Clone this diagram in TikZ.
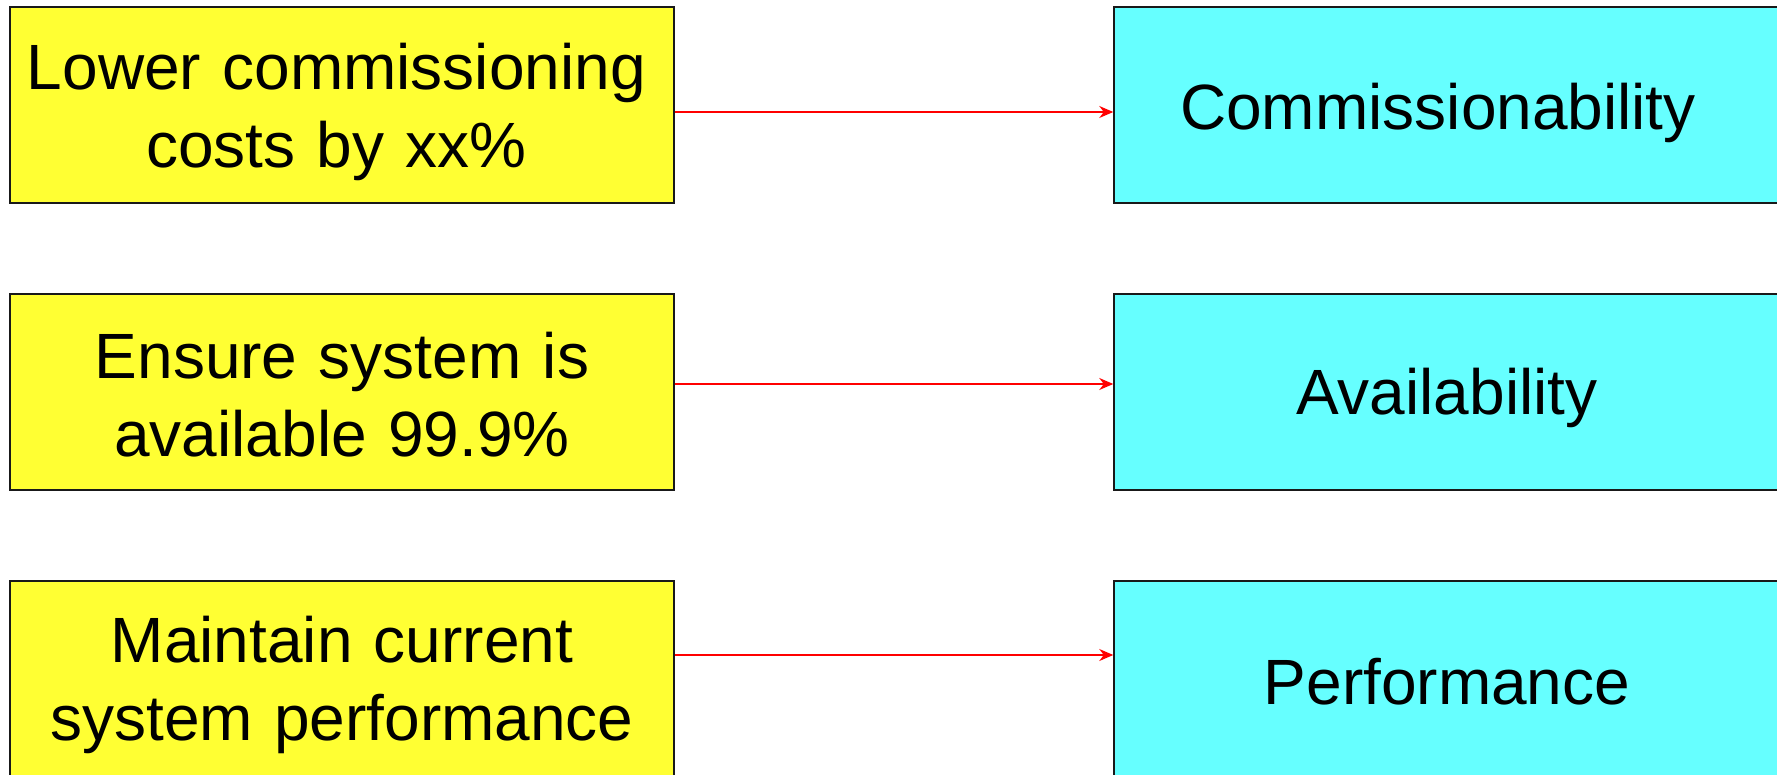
\documentclass[tikz,border=0pt]{standalone}
\usepackage{fontspec}
\setmainfont{Liberation Sans}
\usetikzlibrary{arrows.meta}
\definecolor{goalyellow}{RGB}{255,255,51}
\definecolor{attrcyan}{RGB}{102,255,255}
\begin{document}
\begin{tikzpicture}[x=0.5pt,y=-0.5pt,
  box/.style={draw=black!90,line width=0.75pt,minimum height=98pt,inner sep=0pt},
  goal/.style={box,fill=goalyellow,minimum width=332pt},
  attr/.style={box,fill=attrcyan,minimum width=333pt},
  txt/.style={align=center,inner sep=0pt,text width=320pt,
    font=\fontsize{32}{39}\selectfont},
  link/.style={draw=red,line width=0.75pt,-{Stealth[length=7pt,width=6pt]}}]
\useasboundingbox (0,0) rectangle (1777,775);
% goals on the left
\node[goal] (g1) at (342,105) {};
\node[goal] (g2) at (342,392) {};
\node[goal] (g3) at (342,679) {};
\node[txt,xshift=-2.8pt,yshift=-3.4pt] (g1t) at (g1.center) {Lower commissioning\\costs by xx\%};
\node[txt,yshift=-1.2pt] (g2t) at (g2.center) {Ensure system is\\available 99.9\%};
\node[txt,yshift=-2.8pt] (g3t) at (g3.center) {Maintain current\\system performance};
% quality attributes on the right
\node[attr] (a1) at (1447,105) {};
\node[attr] (a2) at (1447,392) {};
\node[attr] (a3) at (1447,679) {};
\node[txt,xshift=-4.5pt,yshift=-4pt] (a1t) at (a1.center) {Commissionability};
\node[txt,yshift=-2.8pt] (a2t) at (a2.center) {Availability};
\node[txt,yshift=-1.2pt] (a3t) at (a3.center) {Performance};
% links
\draw[link] ([yshift=-3.5pt]g1.east) -- ([yshift=-3.5pt]a1.west);
\draw[link] ([yshift=4pt]g2.east) -- ([yshift=4pt]a2.west);
\draw[link] ([yshift=12pt]g3.east) -- ([yshift=12pt]a3.west);
\end{tikzpicture}
\end{document}
